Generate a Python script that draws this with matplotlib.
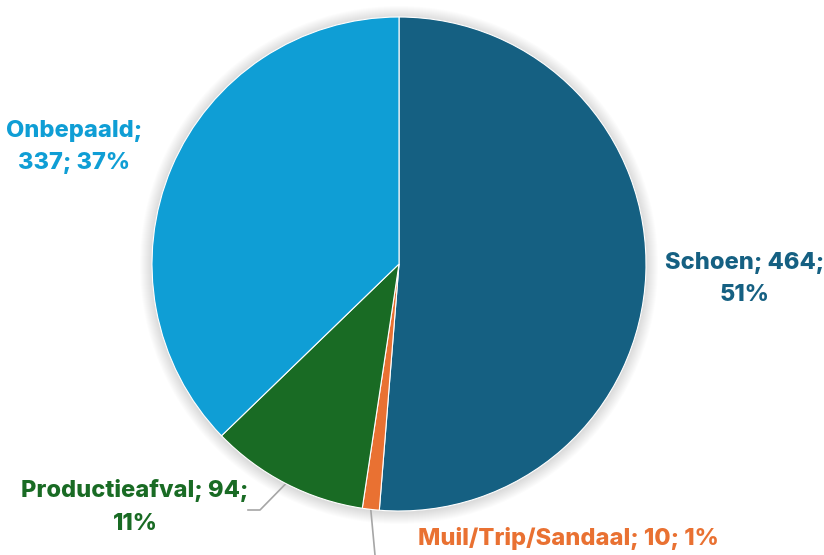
import numpy as np
import matplotlib.pyplot as plt
from matplotlib.patches import Circle

# data
labels = ["Schoen", "Muil/Trip/Sandaal", "Productieafval", "Onbepaald"]
values = [464, 10, 94, 337]
percents = ["51%", "1%", "11%", "37%"]
colors = ["#156082", "#E97132", "#196B24", "#0F9ED5"]

plt.rcParams['font.family'] = ['Inter', 'DejaVu Sans']

W, H = 824, 555
fig = plt.figure(figsize=(W / 100, H / 100), dpi=100)
ax = fig.add_axes([0, 0, 1, 1])
ax.set_xlim(0, W)
ax.set_ylim(0, H)
ax.set_aspect('equal')
ax.axis('off')

cx, cy, r = 399, H - 264, 247

# soft shadow
for i in range(12):
    ax.add_patch(Circle((cx, cy - 1), r + 12 - i, color='black', alpha=0.012, lw=0, zorder=0))

ax.pie(values, colors=colors, startangle=90, counterclock=False,
       center=(cx, cy), radius=r, frame=True,
       wedgeprops=dict(linewidth=0.8, edgecolor='white'))
ax.set_xlim(0, W)
ax.set_ylim(0, H)
ax.axis('off')

fs = 17
txt = dict(fontsize=fs, fontweight='heavy', ha='center', va='center', linespacing=1.62)
ax.text(74, H - 147, f"{labels[3]};\n{values[3]}; {percents[3]}", color=colors[3], **txt)
ax.text(745, H - 279, f"{labels[0]}; {values[0]};\n{percents[0]}", color=colors[0], **txt)
ax.text(135, H - 507, f"{labels[2]}; {values[2]};\n{percents[2]}", color=colors[2], **txt)
ax.text(568, H - 538, f"{labels[1]}; {values[1]}; {percents[1]}", color=colors[1], **txt)

# leader lines from wedge mid-angles
total = sum(values)
cum = np.cumsum([0] + values)
def edge_point(i):
    ang = np.deg2rad(90 - 360 * (cum[i] + values[i] / 2) / total)
    return cx + r * np.cos(ang), cy + r * np.sin(ang)

lc = "#A6A6A6"
x0, y0 = edge_point(2)
ax.plot([x0, 260, 248], [y0, H - 510, H - 510], color=lc, lw=1.2, zorder=0.5)
x1, y1 = edge_point(1)
ax.plot([x1, 375], [y1, 0], color=lc, lw=1.2, zorder=0.5)

fig.savefig("out.png", dpi=100)
